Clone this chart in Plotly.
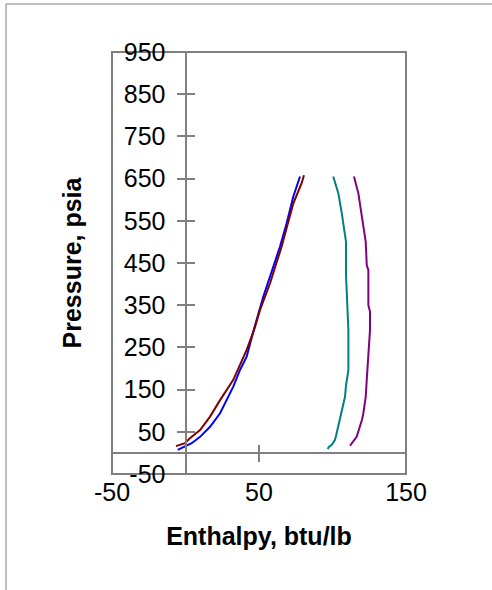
import plotly.graph_objects as go

# ---- data ----
liq1_h = [-5.3, 0.3, 4.2, 9.9, 16.7, 23.5, 32.5, 37.0, 41.6, 46.1, 52.9, 57.5, 64.3, 68.8, 73.3, 77.9]
liq1_p = [7, 17, 23, 38, 62, 94, 157, 196, 228, 287, 370, 418, 489, 544, 607, 655]

liq2_h = [-6.5, -0.3, 3.0, 9.9, 16.7, 23.5, 32.5, 41.6, 46.6, 50.7, 57.5, 65.4, 73.3, 79.0, 80.6]
liq2_p = [16, 23, 35, 54, 86, 125, 173, 244, 291, 339, 402, 489, 591, 639, 658]

vap1_h = [96.7, 97.5, 99.5, 100.5, 101.7, 102.5, 103.3, 104.2, 105.1, 106.0, 106.7, 107.8, 108.5, 109.2, 110.8, 110.8, 110.8, 109.2, 109.2, 106.3, 104.0, 100.5]
vap1_p = [9, 14, 19, 25, 31, 42, 54, 66, 78, 88, 98, 115, 133, 160, 196, 267, 291, 421, 500, 568, 615, 655]

vap2_h = [111.9, 113.0, 114.1, 115.3, 116.4, 117.5, 118.7, 120.0, 121.0, 122.0, 122.6, 123.3, 124.4, 125.0, 125.5, 125.5, 124.4, 124.4, 123.3, 122.6, 119.9, 117.6, 114.6]
vap2_p = [17, 22, 27, 32, 38, 50, 62, 78, 94, 115, 133, 173, 230, 252, 291, 335, 350, 433, 445, 500, 568, 615, 655]

x_range = [-50, 150]
y_range = [-50, 950]
x_ticks = [-50, 50, 150]
x_tick_text = ["-50", "50", "150"]
y_ticks = [-50, 50, 150, 250, 350, 450, 550, 650, 750, 850, 950]
y_tick_text = ["-50", "50", "150", "250", "350", "450", "550", "650", "750", "850", "950"]

GRAY = "#808080"
FONT = "Liberation Sans, Arial, sans-serif"

fig = go.Figure()
series = [
    (liq1_h, liq1_p, "#0000FF"),
    (liq2_h, liq2_p, "#800000"),
    (vap1_h, vap1_p, "#008080"),
    (vap2_h, vap2_p, "#800080"),
]
for h, p, c in series:
    fig.add_trace(go.Scatter(x=h, y=p, mode="lines", line=dict(color=c, width=2),
                             showlegend=False, hoverinfo="skip"))

# empty helper traces so the overlaid tick axes get drawn
for xa, ya in [("x2", "y"), ("x3", "y"), ("x", "y2")]:
    fig.add_trace(go.Scatter(x=[], y=[], xaxis=xa, yaxis=ya, mode="lines",
                             showlegend=False, hoverinfo="skip"))

# position of zero within the ranges (fraction of plot area)
x0_frac = (0 - x_range[0]) / (x_range[1] - x_range[0])
y0_frac = (0 - y_range[0]) / (y_range[1] - y_range[0])

common_y = dict(range=y_range, tickvals=y_ticks, ticktext=y_tick_text, showgrid=False,
                zeroline=False, anchor="free", position=x0_frac, linecolor=GRAY,
                linewidth=2, tickcolor=GRAY, tickwidth=2, ticklen=8)
common_x = dict(range=x_range, tickvals=x_ticks, ticktext=x_tick_text, showgrid=False,
                zeroline=False, linecolor=GRAY, linewidth=2, tickcolor=GRAY,
                tickwidth=2, ticklen=8)

fig.update_layout(
    width=492, height=590,
    margin=dict(l=112, r=86, t=52, b=116),
    paper_bgcolor="white", plot_bgcolor="white",
    font=dict(family=FONT, color="black"),
    xaxis=dict(range=x_range, tickvals=x_ticks, ticktext=x_tick_text, showgrid=False,
               zeroline=False, showline=False, ticks="", tickfont=dict(size=25),
               ticklabelstandoff=1,
               title=dict(text="<b>Enthalpy, btu/lb</b>", font=dict(size=25), standoff=22)),
    xaxis2=dict(common_x, overlaying="x", anchor="free", position=y0_frac,
                showline=True, ticks="outside", showticklabels=False),
    xaxis3=dict(common_x, overlaying="x", anchor="free", position=y0_frac,
                showline=False, ticks="inside", showticklabels=False),
    yaxis=dict(common_y, showline=True, ticks="outside", tickfont=dict(size=25),
               ticklabelstandoff=6,
               title=dict(text="<b>Pressure, psia</b>", font=dict(size=25), standoff=34)),
    yaxis2=dict(common_y, overlaying="y", showline=False, ticks="inside",
                showticklabels=False),
    shapes=[
        dict(type="rect", xref="paper", yref="paper", x0=0, x1=1, y0=0, y1=1,
             line=dict(color=GRAY, width=2), layer="below"),
        dict(type="rect", xref="paper", yref="paper", x0=-0.3605, x1=2, y0=-2, y1=1.1137,
             line=dict(color=GRAY, width=1), layer="below"),
    ],
)

fig.write_html("out.html", config={"displayModeBar": False},
               post_script="document.body.style.margin='0px';")
